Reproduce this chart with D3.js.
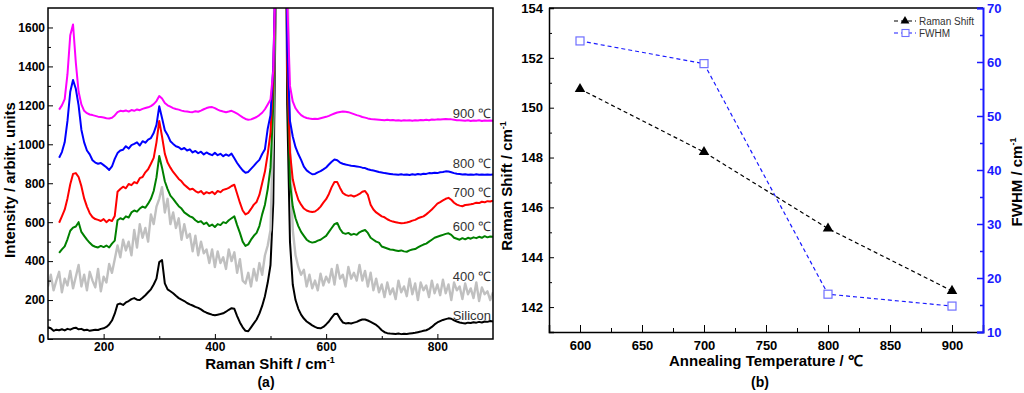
<!DOCTYPE html>
<html lang="en">
<head>
<meta charset="UTF-8">
<title>Raman spectra and peak analysis</title>
<script src="https://cdn.jsdelivr.net/npm/d3@7"></script>
<style>
  body { margin: 0; background: #fff; }
  svg { display: block; font-family: "Liberation Sans", Arial, sans-serif; }
  .tick text { font-weight: bold; }
</style>
</head>
<body>
<script>
// ---- panel (a): Raman spectra, wavenumber grid in cm-1 ----
var shift = [
  100,105,110,115,120,125,130,135,140,145,150,155,160,165,170,175,180,185,190,195,
  200,205,210,215,220,225,230,235,240,245,250,255,260,265,270,275,280,285,290,295,
  300,305,310,315,320,325,330,335,340,345,350,355,360,365,370,375,380,385,390,395,
  400,405,410,415,420,425,430,435,440,445,450,455,460,465,470,475,480,485,490,495,
  500,505,510,515,520,525,530,535,540,545,550,555,560,565,570,575,580,585,590,595,
  600,605,610,615,620,625,630,635,640,645,650,655,660,665,670,675,680,685,690,695,
  700,705,710,715,720,725,730,735,740,745,750,755,760,765,770,775,780,785,790,795,
  800,805,810,815,820,825,830,835,840,845,850,855,860,865,870,875,880,885,890,895,900
];

var silicon = [
  60,55,42,48,45,50,44,52,48,55,58,50,52,45,48,42,45,48,46,52,
  55,62,75,95,130,178,182,175,188,195,205,210,202,200,212,225,240,255,280,310,
  395,405,286,255,245,235,222,210,202,195,185,178,172,165,160,152,142,135,130,125,
  122,125,128,132,140,150,158,155,118,85,60,42,40,60,80,100,130,170,220,290,
  380,700,1900,8000,12000,3500,1200,500,280,200,155,125,105,90,80,70,62,56,55,62,
  75,90,110,128,130,105,85,80,82,80,84,88,95,100,100,95,88,80,72,60,
  45,35,30,28,27,26,28,25,27,26,28,30,32,35,38,42,45,52,62,75,
  85,92,98,102,106,104,96,90,85,82,80,84,82,86,84,88,85,90,88,92,90
];

var t400 = [
  270,330,250,300,345,240,310,275,350,260,320,380,270,330,250,345,300,265,360,245,
  320,290,385,340,410,480,420,510,455,500,430,560,470,590,520,570,500,640,590,680,
  720,780,650,720,590,650,570,620,510,590,520,540,450,530,430,500,440,460,390,460,
  370,450,390,420,360,460,400,445,340,410,300,285,340,270,360,300,390,330,430,480,
  560,1100,2000,5000,9000,5000,2000,1000,560,430,370,330,355,270,330,260,300,250,335,275,
  320,290,360,280,380,310,330,270,370,310,340,300,380,300,350,270,340,250,310,240,
  280,215,290,230,260,205,300,240,270,220,310,230,285,200,290,250,275,215,300,235,
  280,225,305,235,280,200,290,250,270,205,285,230,260,210,290,195,265,230,245,200,240
];

var t600 = [
  null,null,null,null,442,460,476,512,556,572,578,600,550,530,510,494,480,474,470,478,
  472,480,470,490,505,610,620,614,630,624,650,660,654,670,680,674,695,720,760,830,
  940,880,810,770,736,720,700,682,670,650,640,630,624,610,600,605,590,598,580,588,
  575,590,585,600,595,610,620,630,585,545,500,478,486,510,530,545,580,640,690,770,
  880,1200,2000,5000,9000,3800,1400,800,680,620,580,550,530,510,500,495,498,505,510,520,
  530,550,570,590,596,565,545,540,545,535,540,535,548,555,560,545,520,510,500,495,
  475,470,465,460,458,455,452,455,450,448,455,460,462,470,478,485,490,500,510,520,
  525,530,535,540,543,535,520,515,510,518,512,520,515,522,518,525,520,528,522,526,525
];

var t700 = [
  null,null,null,null,597,630,664,722,795,848,852,832,785,722,680,646,626,616,612,606,
  616,600,612,606,632,756,770,782,774,796,790,806,800,826,832,856,872,900,930,1010,
  1120,1040,952,906,880,858,840,822,810,792,780,768,772,760,752,760,744,754,748,756,
  744,760,754,766,770,776,786,792,746,700,660,640,648,668,690,704,740,800,860,950,
  1060,1350,2000,5000,9000,3500,1400,960,820,760,715,690,670,660,655,652,655,665,680,700,
  718,745,780,806,806,776,750,740,735,738,732,738,745,756,760,740,690,665,650,640,
  630,625,615,608,603,600,597,595,596,598,602,608,612,620,625,630,640,652,665,680,
  695,703,712,720,725,715,700,690,685,682,688,690,692,695,700,698,705,702,708,706,710
];

var t800 = [
  null,null,null,null,931,960,1010,1120,1270,1330,1285,1200,1075,1010,968,948,918,906,900,904,
  893,882,868,886,925,955,968,972,990,978,996,1002,1010,994,1016,1008,1024,1032,1058,1100,
  1195,1135,1072,1048,1016,1002,990,985,974,981,968,974,958,966,954,962,948,958,950,944,
  956,944,951,939,948,941,952,928,904,884,866,854,858,874,889,906,920,950,975,1080,
  1150,1400,2000,4000,9000,4000,1500,1120,1040,985,950,920,885,866,855,846,848,856,862,871,
  881,896,910,922,918,906,900,896,893,890,888,886,884,880,878,872,868,865,862,858,
  855,852,850,848,846,845,844,846,843,845,842,846,844,847,845,849,848,852,851,854,
  852,856,858,861,860,856,852,849,847,845,846,844,845,843,846,844,845,843,845,844,845
];

var t900 = [
  null,null,null,null,1178,1200,1232,1360,1560,1615,1420,1270,1205,1172,1160,1153,1150,1146,1142,1140,
  1138,1134,1133,1136,1148,1165,1172,1170,1174,1168,1176,1172,1179,1175,1182,1186,1190,1196,1206,1222,
  1248,1235,1212,1200,1193,1186,1181,1178,1173,1170,1168,1166,1165,1170,1167,1173,1180,1186,1190,1191,
  1186,1178,1172,1168,1165,1168,1172,1165,1158,1148,1138,1130,1126,1128,1134,1140,1150,1162,1180,1205,
  1230,1380,2000,3600,9000,4200,1750,1300,1220,1185,1165,1150,1141,1135,1132,1130,1131,1130,1134,1138,
  1141,1146,1152,1158,1163,1166,1168,1167,1165,1160,1155,1150,1146,1140,1137,1133,1130,1128,1127,1126,
  1125,1124,1126,1123,1125,1122,1124,1121,1123,1122,1124,1121,1123,1122,1125,1123,1126,1124,1127,1126,
  1128,1127,1129,1130,1129,1128,1126,1124,1123,1122,1121,1123,1120,1122,1121,1123,1120,1122,1121,1122,1121
];

var spectrumNames = ["Silicon", "400 \u2103", "600 \u2103", "700 \u2103", "800 \u2103", "900 \u2103"];
// intensity level where each curve label sits
var labelLevels = [98, 298, 556, 730, 880, 1137];

// ---- panel (b): peak position and width vs annealing temperature ----
var temps = [600, 700, 800, 900];
var ramanShift = [150.75, 148.22, 145.15, 142.65];
var fwhm = [63.9, 59.7, 17.0, 14.8];

var xTicksA = [200, 400, 600, 800];
var yTicksA = [0, 200, 400, 600, 800, 1000, 1200, 1400, 1600];
var xTicksB = [600, 650, 700, 750, 800, 850, 900];
var yTicksB = [142, 144, 146, 148, 150, 152, 154];
var fTicksB = [10, 20, 30, 40, 50, 60, 70];

var colors = ["#000000", "#c0c0c0", "#008000", "#ff0000", "#0000ff", "#ff00ff"];
var blue = "#1a1aff";

var svg = d3.select("body").append("svg")
  .attr("width", 1024)
  .attr("height", 393);

// ================= panel (a) =================
var xA = d3.scaleLinear().domain([100, 900]).range([48, 493]);
var yA = d3.scaleLinear().domain([0, 1700]).range([339, 8]);

svg.append("clipPath").attr("id", "clipA")
  .append("rect")
  .attr("x", 48).attr("y", 8)
  .attr("width", 445).attr("height", 331);

var lineA = d3.line()
  .defined(function(d) { return d[1] != null; })
  .x(function(d) { return xA(d[0]); })
  .y(function(d) { return yA(d[1]); });

var spectra = [silicon, t400, t600, t700, t800, t900];
var gA = svg.append("g").attr("clip-path", "url(#clipA)");
spectra.forEach(function(vals, i) {
  var pts = shift.map(function(s, j) { return [s, vals[j]]; });
  gA.append("path")
    .datum(pts)
    .attr("d", lineA)
    .attr("fill", "none")
    .attr("stroke", colors[i])
    .attr("stroke-width", i == 1 ? 2.4 : 2)
    .attr("stroke-linejoin", "round");
});

spectrumNames.forEach(function(name, i) {
  svg.append("text")
    .attr("x", 491)
    .attr("y", yA(labelLevels[i]))
    .attr("text-anchor", "end")
    .attr("font-size", 13)
    .attr("fill", "#333")
    .text(name);
});

// axes (ticks point inward)
svg.append("g")
  .attr("transform", "translate(48,0)")
  .call(d3.axisLeft(yA).tickValues(yTicksA).tickSize(-5).tickPadding(3).tickFormat(d3.format("d")))
  .call(function(g) { g.select(".domain").remove(); })
  .selectAll("text").attr("font-size", 12);
svg.append("g")
  .attr("transform", "translate(48,0)")
  .call(d3.axisLeft(yA).tickValues([100, 300, 500, 700, 900, 1100, 1300, 1500]).tickSize(-3).tickFormat(""))
  .call(function(g) { g.select(".domain").remove(); });
svg.append("g")
  .attr("transform", "translate(0,339)")
  .call(d3.axisBottom(xA).tickValues(xTicksA).tickSize(-5).tickPadding(3.5))
  .call(function(g) { g.select(".domain").remove(); })
  .selectAll("text").attr("font-size", 12);
svg.append("g")
  .attr("transform", "translate(0,339)")
  .call(d3.axisBottom(xA).tickValues([300, 500, 700]).tickSize(-3).tickFormat(""))
  .call(function(g) { g.select(".domain").remove(); });

svg.append("rect")
  .attr("x", 48).attr("y", 8)
  .attr("width", 445).attr("height", 331)
  .attr("fill", "none")
  .attr("stroke", "#000")
  .attr("stroke-width", 1.5);

// titles
var tA = svg.append("text")
  .attr("x", 270).attr("y", 369)
  .attr("text-anchor", "middle")
  .attr("font-size", 15).attr("font-weight", "bold");
tA.append("tspan").text("Raman Shift / cm");
tA.append("tspan").attr("dy", -6).attr("font-size", 9).text("-1");

svg.append("text")
  .attr("x", 266).attr("y", 387)
  .attr("text-anchor", "middle")
  .attr("font-size", 14).attr("font-weight", "bold")
  .text("(a)");

svg.append("text")
  .attr("transform", "translate(15,180) rotate(-90)")
  .attr("text-anchor", "middle")
  .attr("font-size", 15).attr("font-weight", "bold")
  .text("Intensity / arbitr. units");

// ================= panel (b) =================
var xB = d3.scaleLinear().domain([575, 925]).range([549, 983]);
var yB = d3.scaleLinear().domain([141, 154]).range([332, 8]);
var fB = d3.scaleLinear().domain([10, 70]).range([332, 8]);

svg.append("g")
  .attr("transform", "translate(549,0)")
  .call(d3.axisLeft(yB).tickValues(yTicksB).tickSize(-5).tickPadding(6))
  .call(function(g) { g.select(".domain").attr("stroke-width", 1.5); })
  .selectAll("text").attr("font-size", 13);
svg.append("g")
  .attr("transform", "translate(549,0)")
  .call(d3.axisLeft(yB).tickValues([141, 143, 145, 147, 149, 151, 153]).tickSize(-3).tickFormat(""))
  .call(function(g) { g.select(".domain").remove(); });

svg.append("g")
  .attr("transform", "translate(0,332)")
  .call(d3.axisBottom(xB).tickValues(xTicksB).tickSize(-7).tickPadding(8.5))
  .call(function(g) { g.select(".domain").attr("stroke-width", 1.5); })
  .selectAll("text").attr("font-size", 13);
svg.append("g")
  .attr("transform", "translate(0,332)")
  .call(d3.axisBottom(xB).tickValues([625, 675, 725, 775, 825, 875]).tickSize(-4).tickFormat(""))
  .call(function(g) { g.select(".domain").remove(); });

svg.append("line")
  .attr("x1", 549).attr("x2", 983)
  .attr("y1", 8).attr("y2", 8)
  .attr("stroke", "#000").attr("stroke-width", 1.5);

var rightAxis = svg.append("g")
  .attr("transform", "translate(983,0)")
  .call(d3.axisRight(fB).tickValues(fTicksB).tickSize(-6).tickPadding(4))
  .call(function(g) { g.select(".domain").attr("stroke", blue).attr("stroke-width", 2); });
rightAxis.selectAll("line").attr("stroke", blue).attr("stroke-width", 1.5);
rightAxis.selectAll("text").attr("fill", blue).attr("font-size", 13);
svg.append("g")
  .attr("transform", "translate(983,0)")
  .call(d3.axisRight(fB).tickValues([15, 25, 35, 45, 55, 65]).tickSize(-3).tickFormat(""))
  .call(function(g) { g.select(".domain").remove(); })
  .selectAll("line").attr("stroke", blue).attr("stroke-width", 1.5);

// series lines
var shiftPts = temps.map(function(t, i) { return [t, ramanShift[i]]; });
var fwhmPts = temps.map(function(t, i) { return [t, fwhm[i]]; });

svg.append("path")
  .datum(fwhmPts)
  .attr("d", d3.line().x(function(d) { return xB(d[0]); }).y(function(d) { return fB(d[1]); }))
  .attr("fill", "none")
  .attr("stroke", blue)
  .attr("stroke-width", 1.2)
  .attr("stroke-dasharray", "4,3");

svg.append("path")
  .datum(shiftPts)
  .attr("d", d3.line().x(function(d) { return xB(d[0]); }).y(function(d) { return yB(d[1]); }))
  .attr("fill", "none")
  .attr("stroke", "#000")
  .attr("stroke-width", 1.2)
  .attr("stroke-dasharray", "4,3");

svg.selectAll(".sq")
  .data(fwhmPts)
  .enter().append("rect")
  .attr("class", "sq")
  .attr("x", function(d) { return xB(d[0]) - 4; })
  .attr("y", function(d) { return fB(d[1]) - 4; })
  .attr("width", 8).attr("height", 8)
  .attr("fill", "#fff")
  .attr("stroke", "#6f6fff")
  .attr("stroke-width", 1.2);

svg.selectAll(".tri")
  .data(shiftPts)
  .enter().append("path")
  .attr("class", "tri")
  .attr("transform", function(d) { return "translate(" + xB(d[0]) + "," + yB(d[1]) + ")"; })
  .attr("d", d3.symbol(d3.symbolTriangle).size(48))
  .attr("fill", "#000");

// legend
var legend = svg.append("g").attr("transform", "translate(894,0)");
[["Raman Shift", "#000", 21], ["FWHM", blue, 33]].forEach(function(item, i) {
  legend.append("line")
    .attr("x1", 0).attr("x2", 22)
    .attr("y1", item[2]).attr("y2", item[2])
    .attr("stroke", item[1])
    .attr("stroke-width", 1.2)
    .attr("stroke-dasharray", "4,3");
  if (i == 0) {
    legend.append("path")
      .attr("transform", "translate(11," + item[2] + ")")
      .attr("d", d3.symbol(d3.symbolTriangle).size(34))
      .attr("fill", "#000");
  } else {
    legend.append("rect")
      .attr("x", 8).attr("y", item[2] - 3.5)
      .attr("width", 7).attr("height", 7)
      .attr("fill", "#fff")
      .attr("stroke", "#6f6fff")
      .attr("stroke-width", 1.1);
  }
  legend.append("text")
    .attr("x", 25).attr("y", item[2] + 3.5)
    .attr("font-size", 10)
    .attr("fill", "#333")
    .text(item[0]);
});

// titles
svg.append("text")
  .attr("x", 766).attr("y", 366)
  .attr("text-anchor", "middle")
  .attr("font-size", 15).attr("font-weight", "bold")
  .text("Annealing Temperature / \u2103");

svg.append("text")
  .attr("x", 760).attr("y", 387)
  .attr("text-anchor", "middle")
  .attr("font-size", 14).attr("font-weight", "bold")
  .text("(b)");

var tB = svg.append("text")
  .attr("transform", "translate(512,186) rotate(-90)")
  .attr("text-anchor", "middle")
  .attr("font-size", 15).attr("font-weight", "bold");
tB.append("tspan").text("Raman Shift / cm");
tB.append("tspan").attr("dy", -6).attr("font-size", 9).text("-1");

var tF = svg.append("text")
  .attr("transform", "translate(1022,182) rotate(-90)")
  .attr("text-anchor", "middle")
  .attr("font-size", 15).attr("font-weight", "bold");
tF.append("tspan").text("FWHM / cm");
tF.append("tspan").attr("dy", -6).attr("font-size", 9).text("-1");
</script>
</body>
</html>
